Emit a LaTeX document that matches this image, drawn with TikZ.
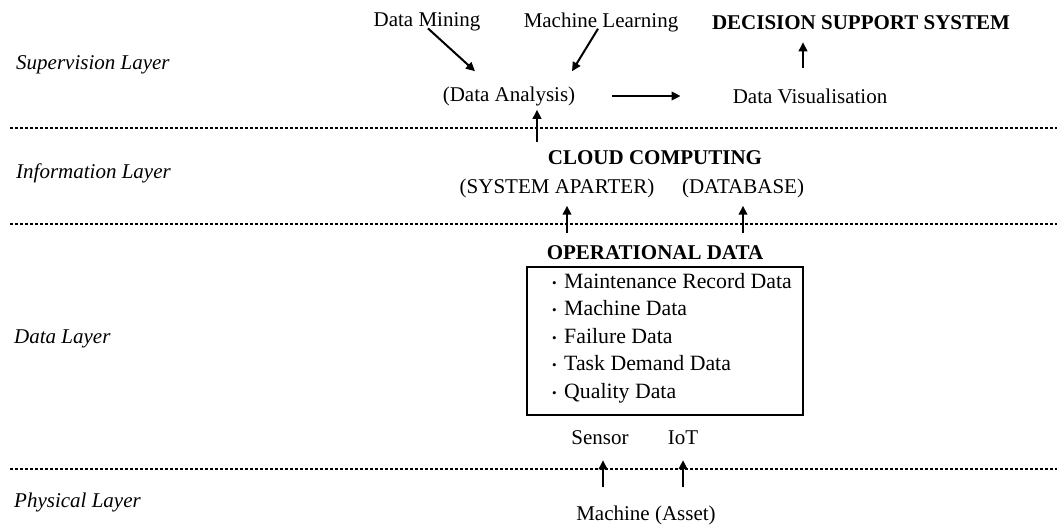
\documentclass[tikz,border=0pt]{standalone}
\usepackage{fontspec}
\setmainfont{Liberation Serif}
\usetikzlibrary{arrows.meta}

\tikzset{
    txt/.style={inner sep=0pt, font=\fontsize{21}{25}\selectfont},
    bold/.style={txt, font=\fontsize{21}{25}\selectfont\bfseries},
    layer/.style={txt, anchor=west, font=\fontsize{21}{25}\selectfont\itshape},
    dotline/.style={line width=2.7pt, dash pattern=on 2.7pt off 2.3pt},
    arr/.style={line width=2pt, -{Triangle[length=9pt,width=8.5pt]}}
}
\newcommand{\dotitem}{\makebox[12pt][l]{\raisebox{1.2pt}{\fontsize{13}{13}\selectfont\textbullet}}}

\begin{document}
\begin{tikzpicture}[x=1pt, y=-1pt]
        \useasboundingbox (0,0) rectangle (1059,525);

        % Layers
        \node[layer] (supl) at (16,65) {Supervision Layer};
        \node[layer] (infl) at (16,173) {Information Layer};
        \node[layer] (datl) at (14,339) {Data Layer};
        \node[layer] (phyl) at (14,502) {Physical Layer};

        \draw[dotline] (10,128) -- (1057,128);
        \draw[dotline] (10,224) -- (1057,224);
        \draw[dotline] (10,469) -- (1057,469);

        % Supervision layer
        \node[txt] (dm) at (427,22) {Data Mining};
        \node[txt] (ml) at (601,22) {Machine Learning};
        \node[bold] (dss) at (861,23) {DECISION SUPPORT SYSTEM};
        \node[txt] (da) at (509,96) {(Data Analysis)};
        \node[txt] (dv) at (810,96) {Data Visualisation};

        \draw[arr] ([xshift=1pt,yshift=3pt]dm.south) -- ([xshift=-34pt,yshift=15pt]da.north);
        \draw[arr] ([xshift=-3pt,yshift=3pt]ml.south) -- ([xshift=63pt,yshift=15pt]da.north);
        \draw[arr] ([xshift=37pt]da.east) -- ([xshift=-52pt]dv.west);
        \draw[arr] ([xshift=-7pt,yshift=20pt]dv.north) -- ([xshift=-58pt,yshift=-12pt]dss.south);

        % Information layer
        \node[bold] (cc) at (655,158) {CLOUD COMPUTING};
        \node[txt] (sa) at (557,188) {(SYSTEM APARTER)};
        \node[txt] (db) at (743,188) {(DATABASE)};

        \draw[arr] ([xshift=-118pt,yshift=9pt]cc.north) -- ([xshift=28pt,yshift=-4pt]da.south);

        % Data layer
        \node[bold] (od) at (655,253) {OPERATIONAL DATA};
        \node[draw, line width=1.8pt, minimum width=276pt, minimum height=148pt] (opbox) at (665,341) {};
        \node[txt, anchor=west, align=left, font=\fontsize{21.8}{27.5}\selectfont] (oplist) at (552,338) {
            \dotitem Maintenance Record Data\\
            \dotitem Machine Data\\
            \dotitem Failure Data\\
            \dotitem Task Demand Data\\
            \dotitem Quality Data
        };

        \draw[arr] ([xshift=-88pt,yshift=13pt]od.north) -- ([xshift=10pt,yshift=-8pt]sa.south);
        \draw[arr] ([xshift=88pt,yshift=13pt]od.north) -- ([yshift=-8pt]db.south);

        \node[txt] (sensor) at (600,438) {Sensor};
        \node[txt] (iot) at (683,438) {IoT};

        % Physical layer
        \node[txt] (mach) at (646,515) {Machine (Asset)};

        \draw[arr] ([xshift=-43pt,yshift=18pt]mach.north) -- ([xshift=3pt,yshift=-15pt]sensor.south);
        \draw[arr] ([xshift=37pt,yshift=18pt]mach.north) -- ([yshift=-15pt]iot.south);

    \end{tikzpicture}
\end{document}
